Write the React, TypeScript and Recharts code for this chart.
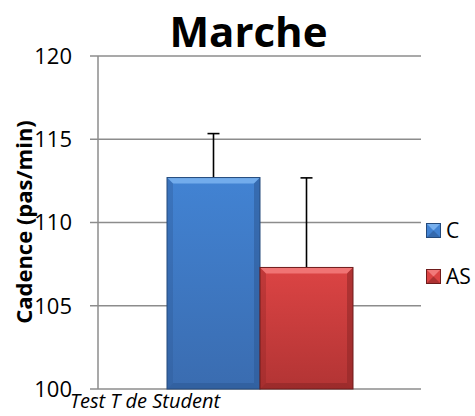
import React from "react";
import { BarChart, Bar, YAxis, XAxis, CartesianGrid } from "recharts";

const categories = ["Marche"];
const valuesC = [112.7];
const valuesAS = [107.3];
const errorsC = [2.64];
const errorsAS = [5.38];
const yTicks = [100, 105, 110, 115, 120];
const BASE = 100;

const data = categories.map((c, i) => ({
  name: c,
  C: valuesC[i],
  AS: valuesAS[i],
  errC: errorsC[i],
  errAS: errorsAS[i],
}));

const palettes: Record<string, { top: string; bottom: string; light: string; dark: string; edge: string }> = {
  C: { top: "#4283d3", bottom: "#3a6cb0", light: "#78b0ee", dark: "#2d5a96", edge: "#244a7c" },
  AS: { top: "#dc4444", bottom: "#b23434", light: "#f27a7a", dark: "#8e2626", edge: "#6e1c1c" },
};

const makeShape = (key: string, errKey: string) => (props: any) => {
  const { x, y, width, height, payload } = props;
  const p = palettes[key];
  const value = payload[key];
  const err = payload[errKey];
  const pxPerUnit = height / (value - BASE);
  const errTop = y - err * pxPerUnit;
  const cx = x + width / 2;
  const b = 6;
  return (
    <g>
      <line x1={cx} x2={cx} y1={y} y2={errTop} stroke="#000" strokeWidth={1.6} />
      <line x1={cx - 6} x2={cx + 6} y1={errTop} y2={errTop} stroke="#000" strokeWidth={1.6} />
      <rect x={x} y={y} width={width} height={height} fill={`url(#grad-${key})`} />
      <polygon
        points={`${x},${y} ${x + width},${y} ${x + width - b},${y + b} ${x + b},${y + b}`}
        fill={p.light}
        opacity={0.9}
      />
      <polygon
        points={`${x},${y} ${x + b},${y + b} ${x + b},${y + height - b} ${x},${y + height}`}
        fill={p.dark}
        opacity={0.35}
      />
      <polygon
        points={`${x + width},${y} ${x + width - b},${y + b} ${x + width - b},${y + height - b} ${x + width},${y + height}`}
        fill={p.dark}
        opacity={0.55}
      />
      <polygon
        points={`${x},${y + height} ${x + b},${y + height - b} ${x + width - b},${y + height - b} ${x + width},${y + height}`}
        fill={p.dark}
        opacity={0.6}
      />
      <rect x={x} y={y} width={width} height={height} fill="none" stroke={p.edge} strokeWidth={1} />
    </g>
  );
};

const LegendSwatch = ({ k }: { k: string }) => {
  const p = palettes[k];
  return (
    <svg width={15} height={15} style={{ display: "block" }}>
      <rect x={0.5} y={0.5} width={14} height={14} fill={p.top} stroke={p.edge} />
      <polygon points="1,1 14,1 7.5,7.5" fill={p.light} />
      <polygon points="1,14 14,14 7.5,7.5" fill={p.dark} opacity={0.6} />
    </svg>
  );
};

export default function App() {
  const font = "'Open Sans', 'DejaVu Sans', sans-serif";
  return (
    <div style={{ position: "absolute", left: 0, top: 0, width: 475, height: 416, background: "#fff", fontFamily: font, overflow: "hidden" }}>
      <BarChart
        width={475}
        height={416}
        data={data}
        margin={{ top: 56, right: 54, bottom: 27, left: 0 }}
        barGap={0}
        barSize={93}
      >
        <defs>
          {Object.keys(palettes).map((k) => (
            <linearGradient key={k} id={`grad-${k}`} x1="0" y1="0" x2="0" y2="1">
              <stop offset="0%" stopColor={palettes[k].top} />
              <stop offset="100%" stopColor={palettes[k].bottom} />
            </linearGradient>
          ))}
        </defs>
        <CartesianGrid vertical={false} stroke="#8c8c8c" strokeWidth={1.5} />
        <XAxis dataKey="name" hide />
        <YAxis
          width={98}
          domain={[100, 120]}
          ticks={yTicks}
          interval={0}
          tickSize={8}
          tickMargin={18}
          axisLine={{ stroke: "#8c8c8c", strokeWidth: 1.5 }}
          tickLine={{ stroke: "#8c8c8c", strokeWidth: 1.5 }}
          tick={{ fill: "#000", fontSize: 22, fontFamily: font }}
        />
        <Bar dataKey="C" isAnimationActive={false} shape={makeShape("C", "errC")} />
        <Bar dataKey="AS" isAnimationActive={false} shape={makeShape("AS", "errAS")} />
      </BarChart>
      <div style={{ position: "absolute", left: 0, top: 6, width: 497, textAlign: "center", fontSize: 42, fontWeight: 700, lineHeight: "50px" }}>
        Marche
      </div>
      <div
        style={{
          position: "absolute",
          left: 23,
          top: 222,
          transform: "translate(-50%, -50%) rotate(-90deg)",
          whiteSpace: "nowrap",
          fontSize: 22,
          fontWeight: 700,
          lineHeight: "26px",
        }}
      >
        Cadence (pas/min)
      </div>
      <div style={{ position: "absolute", left: 70, top: 390, fontSize: 20, fontStyle: "italic", lineHeight: "22px", whiteSpace: "nowrap" }}>
        Test T de Student
      </div>
      {[
        { k: "C", top: 220 },
        { k: "AS", top: 266 },
      ].map((item) => (
        <div key={item.k} style={{ position: "absolute", left: 426, top: item.top, display: "flex", alignItems: "center", gap: 5, fontSize: 21, lineHeight: "20px" }}>
          <LegendSwatch k={item.k} />
          <span>{item.k}</span>
        </div>
      ))}
    </div>
  );
}
